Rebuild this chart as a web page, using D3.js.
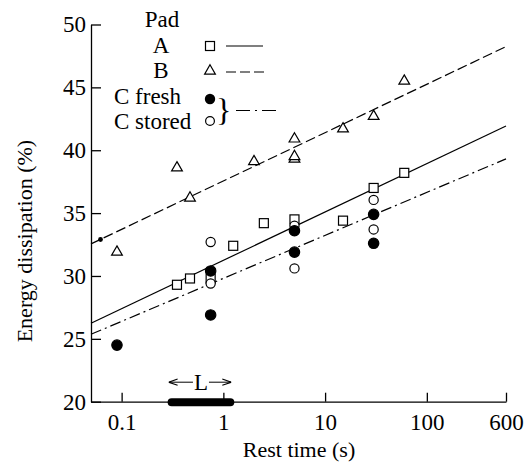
<!DOCTYPE html>
<html>
<head>
<meta charset="utf-8">
<script src="https://cdn.jsdelivr.net/npm/d3@7"></script>
<style>
  body { margin: 0; background: #fff; }
</style>
</head>
<body>
<div id="chart"></div>
<script>
// Pad A (squares)
const padA = [
    { x: 0.35, y: 29.3 }, { x: 0.47, y: 29.8 }, { x: 0.75, y: 29.8 },
    { x: 1.25, y: 32.4 }, { x: 2.5, y: 34.2 }, { x: 5, y: 34.5 },
    { x: 15, y: 34.4 }, { x: 30, y: 37.0 }, { x: 60, y: 38.2 }
];
// Pad B (triangles)
const padB = [
    { x: 0.09, y: 31.9 }, { x: 0.35, y: 38.6 }, { x: 0.47, y: 36.2 },
    { x: 2, y: 39.1 }, { x: 5, y: 40.9 }, { x: 5, y: 39.3 }, { x: 5, y: 39.5 },
    { x: 15, y: 41.7 }, { x: 30, y: 42.7 }, { x: 60, y: 45.5 }
];
const padBDot = [{ x: 0.062, y: 32.9 }];
// Pad C fresh (filled circles)
const padCFresh = [
    { x: 0.09, y: 24.5 }, { x: 0.75, y: 26.9 }, { x: 0.75, y: 30.4 },
    { x: 5, y: 33.6 }, { x: 5, y: 31.9 }, { x: 30, y: 34.9 }, { x: 30, y: 32.6 }
];
// Pad C stored (open circles)
const padCStored = [
    { x: 0.75, y: 32.7 }, { x: 0.75, y: 29.4 }, { x: 5, y: 34.0 },
    { x: 5, y: 30.6 }, { x: 30, y: 36.05 }, { x: 30, y: 33.7 }
];
// regression lines (end points)
const lineA = [{ x: 0.05, y: 26.24 }, { x: 600, y: 41.93 }];
const lineB = [{ x: 0.05, y: 32.55 }, { x: 600, y: 48.24 }];
const lineC = [{ x: 0.05, y: 25.36 }, { x: 600, y: 39.31 }];
const Lrange = [0.31, 1.17];

const xTicks = [0.1, 1, 10, 100, 600];
const yTicks = [20, 25, 30, 35, 40, 45, 50];

const W = 524, H = 463;
const margin = { top: 24.5, right: 18, bottom: 61.3, left: 91 };
const width = W - margin.left - margin.right;
const height = H - margin.top - margin.bottom;

const serif = '"Liberation Serif", "Times New Roman", serif';

const svg = d3.select("#chart").append("svg")
    .attr("width", W)
    .attr("height", H)
    .append("g")
    .attr("transform", "translate(" + margin.left + "," + margin.top + ")");

const x = d3.scaleLog().domain([0.05, 600]).range([0, width]);
const y = d3.scaleLinear().domain([20, 50]).range([height, 0]);

const fs = 23;

// axes
const xAxis = svg.append("g")
    .attr("transform", `translate(0, ${height})`)
    .call(d3.axisBottom(x).tickValues(xTicks).tickFormat(d => d < 1 ? "0.1" : String(d))
        .tickSizeInner(-9).tickSizeOuter(0).tickPadding(12));
const yAxis = svg.append("g")
    .call(d3.axisLeft(y).tickValues(yTicks).tickFormat(d3.format("d"))
        .tickSizeInner(-10).tickSizeOuter(0).tickPadding(5));

[xAxis, yAxis].forEach(a => {
    a.selectAll("path, line").attr("stroke", "#000").attr("stroke-width", 1.3);
    a.selectAll("text").style("font-size", fs + "px").attr("fill", "#000");
});

svg.append("text")
    .attr("x", width / 2 + 0.5)
    .attr("y", height + 55)
    .attr("text-anchor", "middle")
    .style("font-size", "22px")
    .text("Rest time (s)");

svg.append("text")
    .attr("transform", `translate(${-59}, ${height / 2 + 28}) rotate(-90)`)
    .attr("text-anchor", "middle")
    .style("font-size", "22px")
    .text("Energy dissipation (%)");

// fit lines
const line = d3.line().x(d => x(d.x)).y(d => y(d.y));
svg.append("path").datum(lineA).attr("d", line)
    .attr("fill", "none").attr("stroke", "#000").attr("stroke-width", 1.2);
svg.append("path").datum(lineB).attr("d", line)
    .attr("fill", "none").attr("stroke", "#000").attr("stroke-width", 1.2)
    .attr("stroke-dasharray", "10,4");
svg.append("path").datum(lineC).attr("d", line)
    .attr("fill", "none").attr("stroke", "#000").attr("stroke-width", 1.2)
    .attr("stroke-dasharray", "11,4,2,4");

// markers
const sq = 9;
function drawSquares(g, data) {
    g.selectAll(null).data(data).enter().append("rect")
        .attr("x", d => x(d.x) - sq / 2)
        .attr("y", d => y(d.y) - sq / 2)
        .attr("width", sq).attr("height", sq)
        .attr("fill", "#fff").attr("stroke", "#000").attr("stroke-width", 1.2);
}
const tri = d3.symbol().type(d3.symbolTriangle).size(50);
function drawTriangles(g, data) {
    g.selectAll(null).data(data).enter().append("path")
        .attr("d", tri)
        .attr("transform", d => `translate(${x(d.x)}, ${y(d.y)})`)
        .attr("fill", "#fff").attr("stroke", "#000").attr("stroke-width", 1.2);
}
function drawCircles(g, data, filled) {
    g.selectAll(null).data(data).enter().append("circle")
        .attr("cx", d => x(d.x)).attr("cy", d => y(d.y))
        .attr("r", filled ? 5.2 : 4.6)
        .attr("fill", filled ? "#000" : "#fff")
        .attr("stroke", "#000").attr("stroke-width", 1.2);
}

const marks = svg.append("g");
drawTriangles(marks.append("g"), padB);
drawSquares(marks.append("g"), padA);
drawCircles(marks.append("g"), padCStored, false);
drawCircles(marks.append("g"), padCFresh, true);
marks.append("g").selectAll("circle").data(padBDot).enter().append("circle")
    .attr("cx", d => x(d.x)).attr("cy", d => y(d.y)).attr("r", 2.4).attr("fill", "#000");

// L range bar and arrow
svg.append("line")
    .attr("x1", x(Lrange[0])).attr("x2", x(Lrange[1]))
    .attr("y1", height + 0.5).attr("y2", height + 0.5)
    .attr("stroke", "#000").attr("stroke-width", 8).attr("stroke-linecap", "round");

const defs = svg.append("defs");
defs.append("marker")
    .attr("id", "arr")
    .attr("viewBox", "0 0 10 10")
    .attr("refX", 10).attr("refY", 5)
    .attr("markerWidth", 9).attr("markerHeight", 9)
    .attr("markerUnits", "userSpaceOnUse")
    .attr("orient", "auto-start-reverse")
    .append("path").attr("d", "M0,1.5 L10,5 L0,8.5").attr("fill", "none").attr("stroke", "#000").attr("stroke-width", 1.2);

const lMid = (x(Lrange[0]) + x(Lrange[1])) / 2;
const arrowY = height - 19.5;
svg.append("line")
    .attr("x1", lMid - 8).attr("x2", x(Lrange[0]) - 3)
    .attr("y1", arrowY).attr("y2", arrowY)
    .attr("stroke", "#000").attr("stroke-width", 1).attr("marker-end", "url(#arr)");
svg.append("line")
    .attr("x1", lMid + 8).attr("x2", x(Lrange[1]) + 1)
    .attr("y1", arrowY).attr("y2", arrowY)
    .attr("stroke", "#000").attr("stroke-width", 1).attr("marker-end", "url(#arr)");
svg.append("text")
    .attr("x", lMid).attr("y", arrowY + 7.5)
    .attr("text-anchor", "middle")
    .style("font-size", fs + "px")
    .text("L");

// legend
const leg = svg.append("g").attr("transform", `translate(${-margin.left}, ${-margin.top})`);
leg.append("text").attr("x", 162).attr("y", 27).attr("text-anchor", "middle")
    .style("font-size", fs + "px").text("Pad");
leg.append("text").attr("x", 161).attr("y", 53).attr("text-anchor", "middle")
    .style("font-size", fs + "px").text("A");
leg.append("text").attr("x", 161).attr("y", 78).attr("text-anchor", "middle")
    .style("font-size", fs + "px").text("B");
leg.append("text").attr("x", 114).attr("y", 104)
    .style("font-size", fs + "px").text("C fresh");
leg.append("text").attr("x", 114).attr("y", 129)
    .style("font-size", fs + "px").text("C stored");

leg.append("rect").attr("x", 210 - sq / 2).attr("y", 46 - sq / 2).attr("width", sq).attr("height", sq)
    .attr("fill", "#fff").attr("stroke", "#000").attr("stroke-width", 1.2);
leg.append("path").attr("d", tri).attr("transform", "translate(210, 71)")
    .attr("fill", "#fff").attr("stroke", "#000").attr("stroke-width", 1.2);
leg.append("circle").attr("cx", 210).attr("cy", 99).attr("r", 5.2).attr("fill", "#000");
leg.append("circle").attr("cx", 210).attr("cy", 121).attr("r", 4.4)
    .attr("fill", "#fff").attr("stroke", "#000").attr("stroke-width", 1.2);
leg.append("text").attr("x", 216).attr("y", 121)
    .style("font-size", "32px").text("}");

leg.append("line").attr("x1", 226).attr("x2", 263).attr("y1", 46).attr("y2", 46)
    .attr("stroke", "#000").attr("stroke-width", 1.2);
leg.append("line").attr("x1", 226).attr("x2", 265).attr("y1", 72).attr("y2", 72)
    .attr("stroke", "#000").attr("stroke-width", 1.2).attr("stroke-dasharray", "10,4");
leg.append("line").attr("x1", 236).attr("x2", 276).attr("y1", 110.5).attr("y2", 110.5)
    .attr("stroke", "#000").attr("stroke-width", 1.2).attr("stroke-dasharray", "14,5,2,5");

// serif font on every label
d3.select("#chart svg").selectAll("text").style("font-family", serif);
</script>
</body>
</html>
